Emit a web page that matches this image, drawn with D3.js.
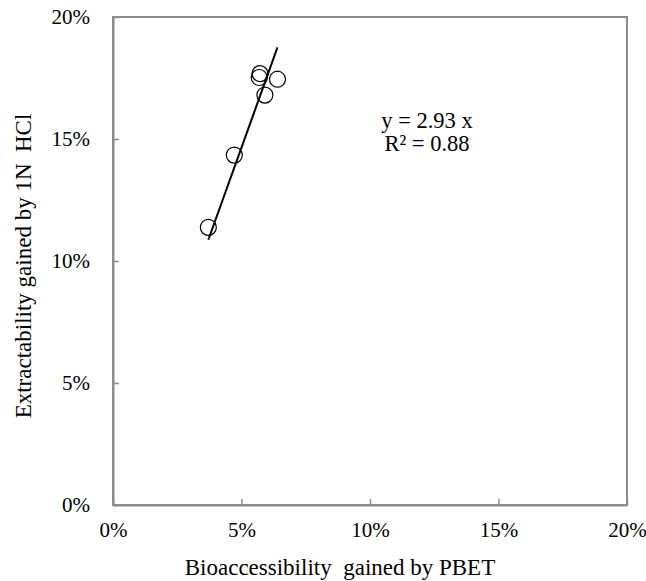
<!DOCTYPE html>
<html><head><meta charset="utf-8">
<script src="https://cdn.jsdelivr.net/npm/d3@7"></script>
<style>body{margin:0;background:#fff}svg{display:block}text{white-space:pre}</style>
</head><body>
<script>
const xValues = [0.0371, 0.0472, 0.0572, 0.0569, 0.0640, 0.0591];
const yValues = [0.1138, 0.1434, 0.1768, 0.1752, 0.1745, 0.1680];
const xTicks = [0, 0.05, 0.10, 0.15, 0.20];
const yTicks = [0, 0.05, 0.10, 0.15, 0.20];
const slope = 2.93;
const eqLines = ["y = 2.93 x", "R\u00B2 = 0.88"];
const xTitle = "Bioaccessibility  gained by PBET";
const yTitle = "Extractability gained by 1N  HCl";

const W = 646, H = 581;
const L = 113, R = 627, T = 17, B = 505;
const font = "'Liberation Serif','Times New Roman',serif";
const grey = "#8c8c8c";

const svg = d3.select("body").append("svg").attr("width", W).attr("height", H);
const x = d3.scaleLinear().domain([0, 0.20]).range([L, R]);
const y = d3.scaleLinear().domain([0, 0.20]).range([B, T]);
const fmt = d3.format(".0%");

// frame
svg.append("rect").attr("x", L).attr("y", T).attr("width", R - L).attr("height", B - T)
  .attr("fill", "none").attr("stroke", grey).attr("stroke-width", 2);

// axes (ticks inside)
const xAxis = svg.append("g").attr("transform", `translate(0,${B})`)
  .call(d3.axisBottom(x).tickValues(xTicks).tickSizeInner(-6).tickSizeOuter(0).tickFormat(fmt).tickPadding(17));
const yAxis = svg.append("g").attr("transform", `translate(${L},0)`)
  .call(d3.axisLeft(y).tickValues(yTicks).tickSizeInner(-6).tickSizeOuter(0).tickFormat(fmt).tickPadding(23));
[xAxis, yAxis].forEach(a => {
  a.select(".domain").attr("stroke", grey).attr("stroke-width", 2);
  a.selectAll(".tick line").attr("stroke", grey).attr("stroke-width", 1.5);
  a.selectAll(".tick text").attr("font-family", font).attr("font-size", 21).attr("fill", "#000");
});

// trendline over data range
const xr = d3.extent(xValues);
svg.append("line")
  .attr("x1", x(xr[0])).attr("y1", y(slope * xr[0]))
  .attr("x2", x(xr[1])).attr("y2", y(slope * xr[1]))
  .attr("stroke", "#000").attr("stroke-width", 2);

// points
svg.append("g").selectAll("circle").data(xValues.map((v, i) => [v, yValues[i]])).join("circle")
  .attr("cx", d => x(d[0])).attr("cy", d => y(d[1])).attr("r", 8)
  .attr("fill", "none").attr("stroke", "#000").attr("stroke-width", 1.2);

// equation
svg.append("g").selectAll("text").data(eqLines).join("text")
  .attr("x", 427).attr("y", (d, i) => 128 + i * 23)
  .attr("text-anchor", "middle").attr("font-family", font).attr("font-size", 22.5).attr("fill", "#000")
  .text(d => d);

// titles
svg.append("text").attr("x", 340).attr("y", 575).attr("text-anchor", "middle")
  .attr("font-family", font).attr("font-size", 23).attr("fill", "#000").text(xTitle);
svg.append("text").attr("transform", "translate(31,266) rotate(-90)").attr("text-anchor", "middle")
  .attr("font-family", font).attr("font-size", 23).attr("fill", "#000").text(yTitle);
</script>
</body></html>
